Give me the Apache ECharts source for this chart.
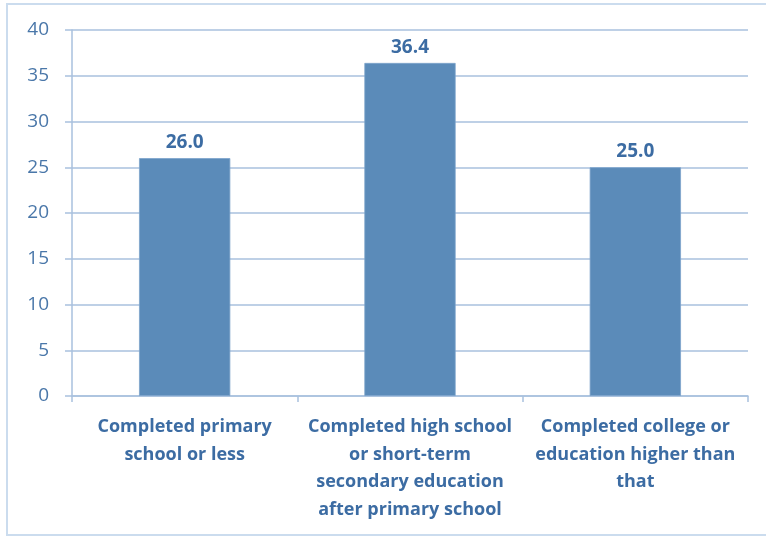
<!DOCTYPE html>
<html>
<head>
<meta charset="utf-8">
<script src="https://cdn.jsdelivr.net/npm/echarts@6/dist/echarts.min.js"></script>
<style>
  html, body { margin: 0; padding: 0; background: #ffffff; }
  #chart { width: 766px; height: 537px; }
</style>
</head>
<body>
<div id="chart"></div>
<script>
// Share of respondents by highest completed education level
const categories = [
  'Completed primary\nschool or less',
  'Completed high school\nor short-term\nsecondary education\nafter primary school',
  'Completed college or\neducation higher than\nthat'
];
const values = [26.0, 36.4, 25.0];
const yTicks = [0, 5, 10, 15, 20, 25, 30, 35, 40];

const lineBlue = '#a9c1de';
const textBlue = '#3c6ca3';
const font = 'Open Sans';

const chart = echarts.init(document.getElementById('chart'), null, { renderer: 'canvas' });
chart.setOption({
  animation: false,
  backgroundColor: '#ffffff',
  graphic: [{
    type: 'rect',
    shape: { x: 7, y: 4, width: 770, height: 531 },
    style: { fill: 'none', stroke: '#cbdcee', lineWidth: 2 },
    silent: true,
    z: -1
  }],
  grid: { left: 72, right: 18, top: 30, bottom: 141, containLabel: false },
  xAxis: {
    type: 'category',
    data: categories,
    axisLine: { lineStyle: { color: lineBlue, width: 1.5 } },
    axisTick: { show: true, alignWithLabel: false, length: 6, lineStyle: { color: lineBlue, width: 1.5 } },
    axisLabel: {
      interval: 0,
      margin: 17,
      color: textBlue,
      fontFamily: font,
      fontWeight: 'bold',
      fontSize: 18,
      lineHeight: 27.7
    }
  },
  yAxis: {
    type: 'value',
    min: yTicks[0],
    max: yTicks[yTicks.length - 1],
    interval: 5,
    axisLine: { show: true, lineStyle: { color: lineBlue, width: 1.5 } },
    axisTick: { show: true, length: 7, lineStyle: { color: lineBlue, width: 1.5 } },
    splitLine: { show: true, lineStyle: { color: lineBlue, width: 1.5 } },
    axisLabel: {
      margin: 23,
      color: '#4a77a9',
      fontFamily: font,
      fontSize: 19
    }
  },
  series: [{
    type: 'bar',
    data: values,
    barWidth: '40.5%',
    itemStyle: { color: '#5b8bb9', borderColor: '#7ca3cb', borderWidth: 0.8 },
    label: {
      show: true,
      position: 'top',
      distance: 6,
      formatter: p => p.value.toFixed(1),
      color: textBlue,
      fontFamily: font,
      fontWeight: 'bold',
      fontSize: 19
    }
  }]
});
</script>
</body>
</html>
